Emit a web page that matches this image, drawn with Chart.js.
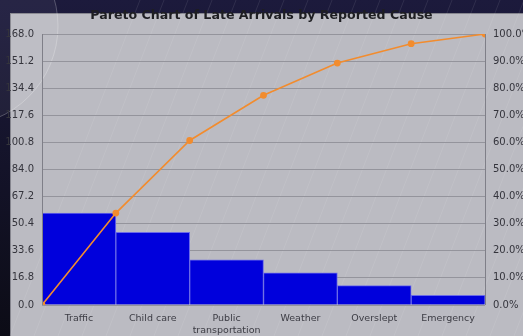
<!DOCTYPE html>
<html>
<head>
<meta charset="utf-8">
<script src="https://cdn.jsdelivr.net/npm/chart.js@4/dist/chart.umd.min.js"></script>
<style>
  html, body { margin: 0; padding: 0; background: #1a1936; }
  #wrap { width: 523px; height: 336px; position: relative; }
</style>
</head>
<body>
<div id="wrap"><canvas id="c" width="523" height="336"></canvas></div>
<script>
// Reported causes of late arrivals, sorted by frequency
const causes = ['Traffic', 'Child care', ['Public', 'transportation'], 'Weather', 'Overslept', 'Emergency'];
const counts = [57, 45, 28, 20, 12, 6];
const countTicks = [0, 16.8, 33.6, 50.4, 67.2, 84.0, 100.8, 117.6, 134.4, 151.2, 168.0];
const percentTicks = [0, 10, 20, 30, 40, 50, 60, 70, 80, 90, 100];

// Cumulative share, one point at each bar boundary starting from zero
const total = counts.reduce((a, b) => a + b, 0);
const cumulative = [{ x: 0, y: 0 }];
let running = 0;
counts.forEach((v, i) => {
  running += v;
  cumulative.push({ x: i + 1, y: running / total * 100 });
});

const FONT = 'DejaVu Sans';

// Page backdrop: dark frame with a grey panel and faint decorative strokes
const backdrop = {
  id: 'backdrop',
  beforeDraw(chart) {
    const ctx = chart.ctx;
    const w = chart.width, h = chart.height;
    ctx.save();
    const g = ctx.createLinearGradient(0, 0, 0, h);
    g.addColorStop(0, '#1c1a3c');
    g.addColorStop(1, '#0c0c16');
    ctx.fillStyle = g;
    ctx.fillRect(0, 0, w, h);
    ctx.fillStyle = '#bbbbc2';
    ctx.fillRect(10, 13, w - 10, h - 13);
    ctx.strokeStyle = '#85858e';
    ctx.lineWidth = 1;
    ctx.strokeRect(10.5, 13.5, w, h);
    // faint diagonal strokes
    ctx.strokeStyle = 'rgba(255,255,255,0.13)';
    ctx.lineWidth = 0.7;
    for (let x0 = 140; x0 < 900; x0 += 24) {
      ctx.beginPath();
      ctx.moveTo(x0 - 130, h);
      ctx.lineTo(x0, 0);
      ctx.stroke();
    }
    // faint disc in the upper-left corner
    ctx.beginPath();
    ctx.arc(-42, 26, 100, 0, Math.PI * 2);
    ctx.fillStyle = 'rgba(255,255,255,0.05)';
    ctx.fill();
    ctx.strokeStyle = 'rgba(255,255,255,0.3)';
    ctx.lineWidth = 0.8;
    ctx.stroke();
    ctx.restore();
  }
};

// Vertical frame lines on both sides of the plot
const frame = {
  id: 'frame',
  afterDatasetsDraw(chart) {
    const { ctx, chartArea: a } = chart;
    ctx.save();
    ctx.strokeStyle = '#7f7f88';
    ctx.lineWidth = 1;
    ctx.beginPath();
    ctx.moveTo(Math.round(a.left) + 0.5, a.top);
    ctx.lineTo(Math.round(a.left) + 0.5, a.bottom);
    ctx.moveTo(Math.round(a.right) + 0.5, a.top);
    ctx.lineTo(Math.round(a.right) + 0.5, a.bottom);
    ctx.stroke();
    ctx.restore();
  }
};

new Chart(document.getElementById('c'), {
  type: 'bar',
  data: {
    labels: causes,
    datasets: [
      {
        type: 'line',
        label: 'Cumulative %',
        data: cumulative,
        xAxisID: 'xLine',
        yAxisID: 'yPct',
        grouped: false,
        borderColor: '#f28c2e',
        backgroundColor: '#f28c2e',
        borderWidth: 1.6,
        pointRadius: 2.6,
        pointHoverRadius: 2.6,
        tension: 0,
        order: 0
      },
      {
        type: 'bar',
        label: 'Count',
        data: counts,
        xAxisID: 'x',
        yAxisID: 'yCount',
        grouped: false,
        backgroundColor: '#0000dc',
        borderColor: '#6a6ae8',
        borderWidth: 1,
        categoryPercentage: 1,
        barPercentage: 1,
        order: 1
      }
    ]
  },
  options: {
    responsive: false,
    animation: false,
    layout: { padding: 0 },
    plugins: {
      legend: { display: false },
      tooltip: { enabled: false },
      title: {
        display: true,
        text: 'Pareto Chart of Late Arrivals by Reported Cause',
        color: '#1e1e22',
        font: { family: FONT, size: 12.6, weight: 'bold' },
        padding: { top: 8.5, bottom: 10.4 }
      }
    },
    scales: {
      x: {
        type: 'category',
        position: 'bottom',
        offset: true,
        grid: { display: false, drawTicks: false },
        border: { display: false },
        ticks: {
          color: '#3c3c44',
          font: { family: FONT, size: 9.5 },
          padding: 8,
          maxRotation: 0,
          autoSkip: false
        },
        afterFit(axis) { axis.height = 31; }
      },
      xLine: {
        type: 'linear',
        position: 'bottom',
        display: false,
        offset: false,
        grid: { offset: false },
        min: 0,
        max: counts.length
      },
      yCount: {
        type: 'linear',
        position: 'left',
        min: 0,
        max: 168,
        afterBuildTicks(axis) { axis.ticks = countTicks.map(v => ({ value: v })); },
        grid: { color: '#94949c', lineWidth: 1, drawTicks: false },
        border: { display: false },
        ticks: {
          color: '#34343c',
          font: { family: FONT, size: 10 },
          padding: 8,
          callback: v => Number(v).toFixed(1)
        },
        afterFit(axis) { axis.width = 42; }
      },
      yPct: {
        type: 'linear',
        position: 'right',
        min: 0,
        max: 100,
        afterBuildTicks(axis) { axis.ticks = percentTicks.map(v => ({ value: v })); },
        grid: { display: false, drawTicks: false },
        border: { display: false },
        ticks: {
          color: '#34343c',
          font: { family: FONT, size: 10 },
          padding: 8,
          callback: v => Number(v).toFixed(1) + '%'
        },
        afterFit(axis) { axis.width = 38; }
      }
    }
  },
  plugins: [backdrop, frame]
});
</script>
</body>
</html>
